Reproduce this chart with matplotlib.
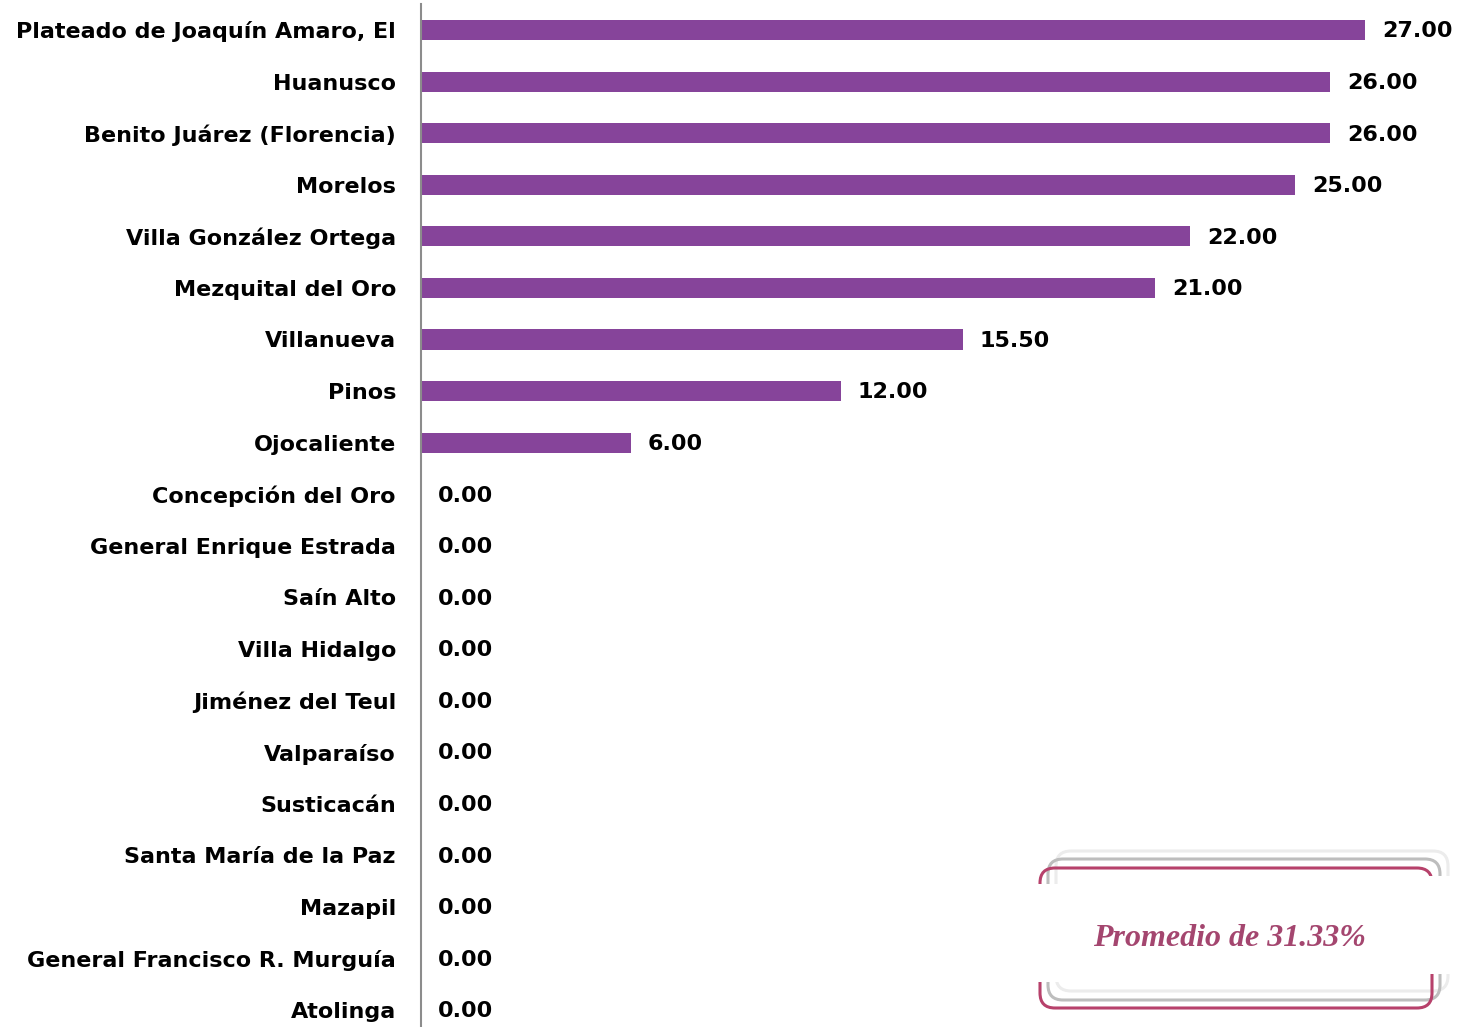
import matplotlib
matplotlib.use("Agg")
import matplotlib.pyplot as plt
from matplotlib.patches import FancyBboxPatch, Rectangle

categories = ["Plateado de Joaquín Amaro, El", "Huanusco", "Benito Juárez (Florencia)",
              "Morelos", "Villa González Ortega", "Mezquital del Oro", "Villanueva",
              "Pinos", "Ojocaliente", "Concepción del Oro", "General Enrique Estrada",
              "Saín Alto", "Villa Hidalgo", "Jiménez del Teul", "Valparaíso",
              "Susticacán", "Santa María de la Paz", "Mazapil",
              "General Francisco R. Murguía", "Atolinga"]
values = [27.0, 26.0, 26.0, 25.0, 22.0, 21.0, 15.5, 12.0, 6.0,
          0, 0, 0, 0, 0, 0, 0, 0, 0, 0, 0]
promedio_text = "Promedio de 31.33%"

W, H = 1463, 1027
fig = plt.figure(figsize=(W / 100, H / 100), dpi=100)

ax_left = 421 / W
top_px, bot_px = 4.2, 1035.8
ax = fig.add_axes([ax_left, 1 - bot_px / H, 1 - ax_left, (bot_px - top_px) / H])

ypos = list(range(len(categories)))
ax.barh(ypos, values, height=0.39, color="#86449A")
ax.set_ylim(len(categories) - 0.5, -0.5)
ax.set_xlim(0, 29.8)
ax.set_yticks(ypos)
ax.set_yticklabels(categories, fontsize=16, fontweight="bold", color="black")
ax.tick_params(axis="y", length=0, pad=18)
ax.set_xticks([])
for s in ["top", "right", "bottom"]:
    ax.spines[s].set_visible(False)
ax.spines["left"].set_color("#8c8c8c")
ax.spines["left"].set_linewidth(1.5)

for y, v in zip(ypos, values):
    ax.annotate(f"{v:.2f}", xy=(v, y), xytext=(12, -1), textcoords="offset points",
                va="center", ha="left", fontsize=16, fontweight="bold", color="black")

# Promedio box overlay in pixel coordinates
ov = fig.add_axes([0, 0, 1, 1])
ov.set_xlim(0, W)
ov.set_ylim(H, 0)
ov.axis("off")
ov.patch.set_alpha(0)

def rbox(x0, y0, x1, y1, color, lw, z):
    p = FancyBboxPatch((x0, y0), x1 - x0, y1 - y0,
                       boxstyle="round,pad=0,rounding_size=15",
                       facecolor="none", edgecolor=color, linewidth=lw, zorder=z)
    ov.add_patch(p)

rbox(1056, 851, 1448, 991, "#ececec", 2.2, 1)
rbox(1048, 859, 1440, 1000, "#bdbdbd", 2.2, 2)
rbox(1040, 868, 1432, 1008, "#b7416b", 2.2, 3)
# hide middle of side borders
ov.add_patch(Rectangle((1030, 884), 40, 98, facecolor="white", edgecolor="none", zorder=4))
ov.add_patch(Rectangle((1420, 876), 42, 98, facecolor="white", edgecolor="none", zorder=4))
ov.text(1229, 938, promedio_text, ha="center", va="center", fontsize=23,
        family="Liberation Serif", style="italic", fontweight="bold",
        color="#a4466f", zorder=5)

fig.savefig("out.png", dpi=100)
